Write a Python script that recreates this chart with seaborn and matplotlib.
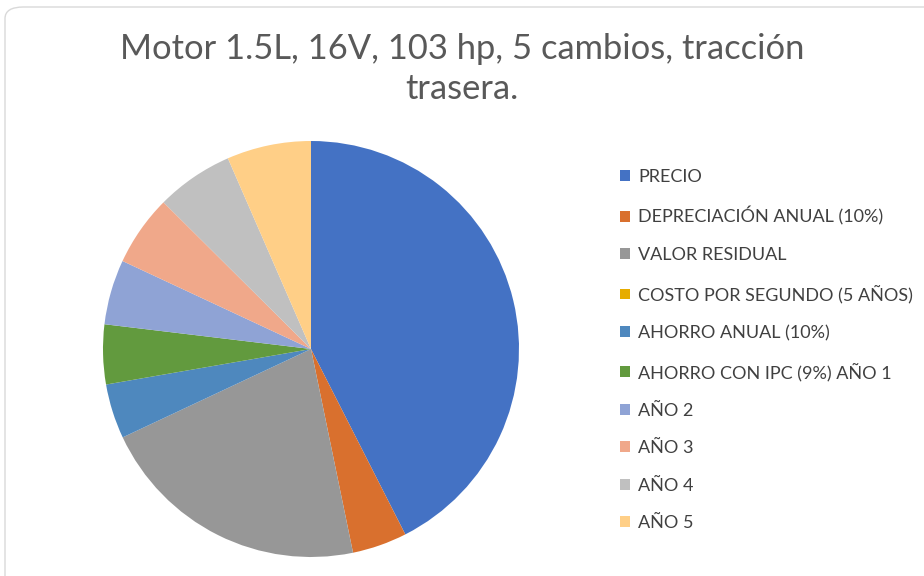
"""
pie chart: costo del vehiculo vs ahorro anual (motor 1.5L)
"""

import matplotlib.pyplot as plt
import seaborn as sns
from matplotlib.patches import FancyBboxPatch, Patch

categorias = [
    "PRECIO",
    "DEPRECIACIÓN ANUAL (10%)",
    "VALOR RESIDUAL",
    "COSTO POR SEGUNDO (5 AÑOS)",
    "AHORRO ANUAL (10%)",
    "AHORRO CON IPC (9%) AÑO 1",
    "AÑO 2",
    "AÑO 3",
    "AÑO 4",
    "AÑO 5",
]
valores = [100.0, 10.0, 50.0, 0.0001, 10.0, 10.9, 11.88, 12.95, 14.12, 15.39]
colores = [
    "#4472C4", "#D9702E", "#979797", "#E6AC00", "#4E88BE",
    "#629A3E", "#8FA3D5", "#F0A88A", "#C0C0C0", "#FFCF87",
]
titulo = "Motor 1.5L, 16V, 103 hp, 5 cambios, tracción\ntrasera."

sns.set_theme(style="white")
plt.rcParams["font.family"] = ["Lato", "DejaVu Sans"]

fig = plt.figure(figsize=(9.24, 5.76), dpi=100)

# marco gris redondeado como en excel
marco = FancyBboxPatch(
    (5 / 924, -0.05), 1.2, 1.0 - 7 / 576 + 0.05,
    boxstyle="round,pad=0,rounding_size=0.02",
    transform=fig.transFigure, facecolor="white", edgecolor="#D9D9D9",
    linewidth=1.0, zorder=-1,
)
fig.patches.append(marco)

ax = fig.add_axes([103 / 924, 19 / 576, 416 / 924, 416 / 576])
ax.pie(
    valores,
    colors=sns.color_palette(colores),
    startangle=90,
    counterclock=False,
    wedgeprops={"linewidth": 0},
)
ax.set_xlim(-1, 1)
ax.set_ylim(-1, 1)
ax.set_aspect("equal")
ax.axis("off")

fig.text(
    0.5, 1 - 69 / 576, titulo, ha="center", va="center",
    fontsize=24.8, color="#595959", linespacing=1.3,
)

handles = [Patch(facecolor=c, edgecolor="none") for c in colores]
fig.legend(
    handles,
    categorias,
    loc="upper left",
    bbox_to_anchor=(604 / 924, 1 - 153 / 576),
    frameon=False,
    fontsize=13,
    handlelength=0.55,
    handleheight=0.55,
    handletextpad=0.45,
    labelspacing=1.19,
    labelcolor="#404040",
)

fig.savefig("out.png", dpi=100)
